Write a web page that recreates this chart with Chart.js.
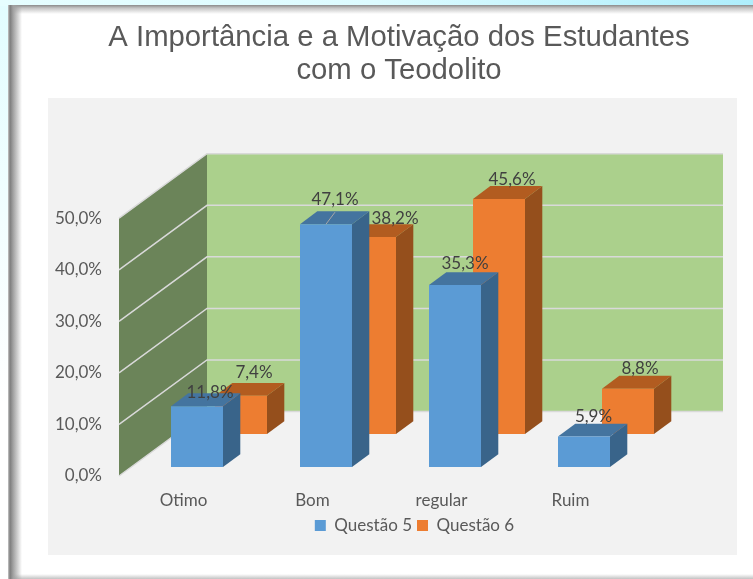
<!DOCTYPE html>
<html>
<head>
<meta charset="utf-8">
<title>Teodolito</title>
<style>
  html, body { margin: 0; padding: 0; width: 753px; height: 579px; overflow: hidden;
               background: linear-gradient(#e2fdff, #ffffff 70%); }
  #strip { position: absolute; left: 0; top: 0; width: 753px; height: 6px;
           background: linear-gradient(90deg, #e6feff, #dcfbff 50%, #aeeefc); }
  #frame { position: absolute; left: 8px; top: 5px; width: 745px; height: 574px;
           background:
             linear-gradient(90deg, #c8c8c8, #7d7d7d 2px, #a0a0a0 5px, #ffffff00 14px) left / 14px 100% no-repeat,
             linear-gradient(180deg, #8a8a8a, #c4c4c4 3px, #ffffff00 9px) top / 100% 9px no-repeat,
             linear-gradient(0deg, #c2c2c2, #ffffff00 5px) bottom / 100% 5px no-repeat,
             #fff; }
  #panel { position: absolute; left: 48px; top: 98px; width: 689px; height: 457px; background: #f2f2f2; }
  #wrap { position: absolute; left: 0; top: 0; width: 753px; height: 579px; }
</style>
<script src="https://cdn.jsdelivr.net/npm/chart.js@4"></script>
</head>
<body>
<div id="strip"></div>
<div id="frame"></div>
<div id="panel"></div>
<div id="wrap"><canvas id="chart" width="753" height="579"></canvas></div>
<script>
/* =========================
   DATA
========================= */
const categories = ['Otimo', 'Bom', 'regular', 'Ruim'];
const questao5 = [11.8, 47.1, 35.3, 5.9];
const questao6 = [7.4, 38.2, 45.6, 8.8];
const yTicks = [0, 10, 20, 30, 40, 50];

/* =========================
   3D LOOK
========================= */
const wallDepth = { x: 88, y: -64.5 };
const barDepth = { x: 17.3, y: -12.8 };
// where each series row sits on the floor, measured from the front edge
const rowShift = [{ x: 13.5, y: -9 }, { x: 57.5, y: -42 }];
const faceColors = [
  { front: '#5b9bd5', side: '#39648a', top: '#44749f' },
  { front: '#ed7d31', side: '#954f1c', top: '#b25c20' }
];
// label offsets from the top middle of each bar's front face
const labelNudge = [
  [[13, -14], [9, -25], [10, -21], [9.5, -20]],
  [[13, -23], [25, -19], [13, -19], [12, -20]]
];

const comma = v => v.toFixed(1).replace('.', ',') + '%';

function poly(ctx, color, pts) {
  ctx.fillStyle = color;
  ctx.beginPath();
  pts.forEach((p, i) => i ? ctx.lineTo(p[0], p[1]) : ctx.moveTo(p[0], p[1]));
  ctx.closePath();
  ctx.fill();
}

const box3d = {
  id: 'box3d',
  afterLayout(chart) {
    // title and legend are not centred on the plot in the original
    chart.titleBlock.left += 81.5; chart.titleBlock.right += 81.5;
    chart.legend.left += 97; chart.legend.right += 97;
  },
  beforeDatasetsDraw(chart) {
    const { ctx, scales: { x, y } } = chart;
    const l = x.left, r = x.right, b = y.getPixelForValue(0), t = y.getPixelForValue(50);
    const dx = wallDepth.x, dy = wallDepth.y;
    poly(ctx, '#abd08c', [[l + dx, t + dy], [r + dx, t + dy], [r + dx, b + dy], [l + dx, b + dy]]);
    poly(ctx, '#6b8459', [[l, t], [l + dx, t + dy], [l + dx, b + dy], [l, b]]);
    ctx.strokeStyle = '#d9d9d9';
    ctx.lineWidth = 1.5;
    yTicks.forEach(v => {
      const py = y.getPixelForValue(v);
      ctx.beginPath();
      ctx.moveTo(l, py);
      ctx.lineTo(l + dx, py + dy);
      ctx.lineTo(r + dx, py + dy);
      ctx.stroke();
    });
  },
  beforeDatasetDraw(chart, args) {
    const ctx = chart.ctx;
    const c = faceColors[args.index];
    const s = rowShift[args.index];
    ctx.save();
    ctx.translate(s.x, s.y);
    args.meta.data.forEach(bar => {
      const L = bar.x - bar.width / 2, R = bar.x + bar.width / 2;
      const T = bar.y, B = bar.base;
      poly(ctx, c.side, [[R, T], [R + barDepth.x, T + barDepth.y], [R + barDepth.x, B + barDepth.y], [R, B]]);
      poly(ctx, c.top, [[L, T], [L + barDepth.x, T + barDepth.y], [R + barDepth.x, T + barDepth.y], [R, T]]);
    });
  },
  afterDatasetDraw(chart) {
    chart.ctx.restore();
  },
  afterDatasetsDraw(chart) {
    const ctx = chart.ctx;
    ctx.save();
    ctx.font = '17px Lato';
    ctx.fillStyle = '#404040';
    ctx.textAlign = 'center';
    ctx.textBaseline = 'middle';
    [1, 0].forEach(i => {
      const s = rowShift[i];
      chart.getDatasetMeta(i).data.forEach((bar, j) => {
        const n = labelNudge[i][j];
        ctx.fillText(comma(chart.data.datasets[i].data[j]), bar.x + s.x + n[0], bar.y + s.y + n[1]);
      });
    });
    // leader line of the moved 47,1% label
    const top = chart.getDatasetMeta(0).data[1];
    ctx.strokeStyle = '#a6a6a6';
    ctx.lineWidth = 1;
    ctx.beginPath();
    ctx.moveTo(top.x + rowShift[0].x, top.y + rowShift[0].y);
    ctx.lineTo(top.x + rowShift[0].x + 9, top.y + rowShift[0].y - 12);
    ctx.stroke();
    ctx.restore();
  }
};

/* =========================
   CHART
========================= */
new Chart(document.getElementById('chart'), {
  type: 'bar',
  data: {
    labels: categories,
    datasets: [
      { label: 'Questão 5', data: questao5, backgroundColor: '#5b9bd5', clip: false },
      { label: 'Questão 6', data: questao6, backgroundColor: '#ed7d31', clip: false }
    ]
  },
  options: {
    responsive: false,
    animation: false,
    layout: { padding: { left: 0, right: 118, top: 0, bottom: 35 } },
    datasets: { bar: { grouped: false, categoryPercentage: 1, barPercentage: 0.403, borderWidth: 0 } },
    scales: {
      x: {
        afterFit(scale) { scale.height = 36; },
        grid: { display: false },
        border: { display: false },
        ticks: { color: '#595959', font: { family: 'Lato', size: 17 }, padding: 6 }
      },
      y: {
        min: 0,
        max: 50,
        afterFit(scale) { scale.width = 119; },
        grid: { display: false, drawTicks: false },
        border: { display: false },
        ticks: {
          stepSize: 10,
          padding: 17,
          color: '#595959',
          font: { family: 'Lato', size: 17 },
          callback: comma
        }
      }
    },
    plugins: {
      title: {
        display: true,
        text: ['A Importância e a Motivação dos Estudantes', 'com o Teodolito'],
        color: '#595959',
        font: { family: 'Liberation Sans', size: 29.3, weight: 'normal', lineHeight: 1.13 },
        padding: { top: 21, bottom: 131 }
      },
      legend: {
        position: 'bottom',
        labels: {
          boxWidth: 11,
          boxHeight: 11,
          padding: 5,
          color: '#595959',
          font: { family: 'Lato', size: 17 }
        }
      },
      tooltip: { enabled: false }
    }
  },
  plugins: [box3d]
});
</script>
</body>
</html>
